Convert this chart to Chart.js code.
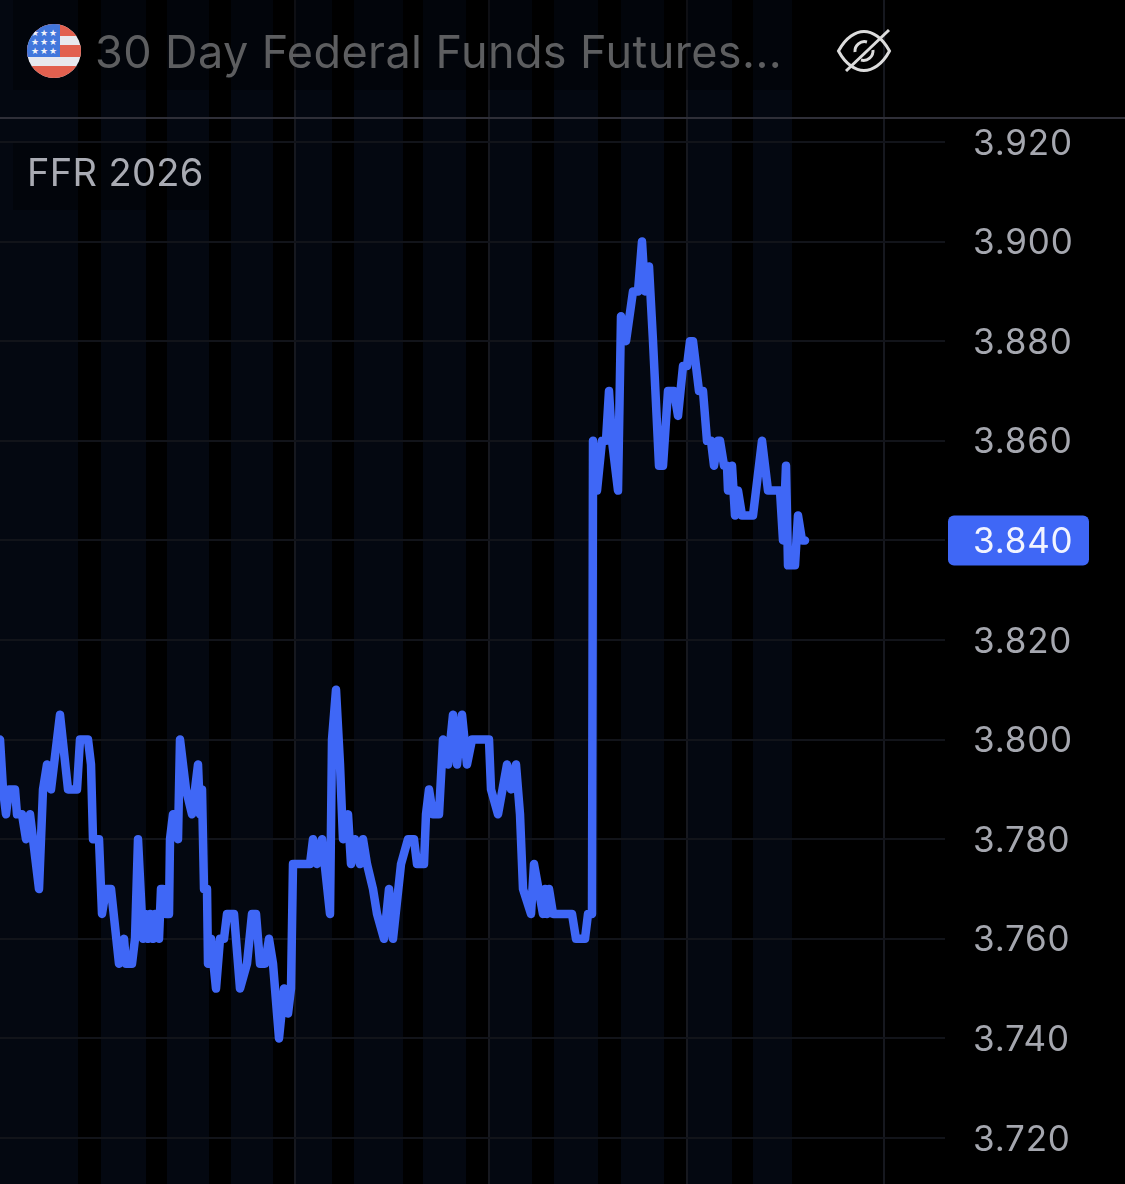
<!DOCTYPE html>
<html>
<head>
<meta charset="utf-8">
<style>
  html,body{margin:0;padding:0;background:#000;width:1125px;height:1184px;overflow:hidden}
  #wrap{position:relative;width:1125px;height:1184px}
  canvas{position:absolute;left:0;top:0}
  .t{position:absolute;font-family:Inter,"Noto Sans",sans-serif;white-space:nowrap;line-height:1}
  #title{left:95px;top:29px;font-size:45px;letter-spacing:0.4px;color:#5d5e60}
  #label{left:27px;top:153px;font-size:38px;letter-spacing:0.35px;color:#a9abb3}
  svg{position:absolute}
</style>
<script src="https://cdn.jsdelivr.net/npm/chart.js@4"></script>
</head>
<body>
<div id="wrap">
  <canvas id="c" width="1125" height="1184"></canvas>
  <svg style="left:27px;top:24px" width="54" height="54" viewBox="0 0 54 54">
    <defs><clipPath id="cp"><circle cx="27" cy="27" r="27"/></clipPath></defs>
    <g clip-path="url(#cp)">
      <rect width="54" height="54" fill="#e8e8ee"/>
      <rect y="0" width="54" height="12" fill="#e2604f"/>
      <rect y="21" width="54" height="12" fill="#e2604f"/>
      <rect y="42" width="54" height="12" fill="#e2604f"/>
      <rect width="33" height="33" fill="#4277dc"/>
      <g fill="#f2f4fa" font-size="9" font-family="DejaVu Sans" text-anchor="middle">
        <text x="8" y="12">★</text><text x="17" y="12">★</text><text x="26" y="12">★</text>
        <text x="8" y="21">★</text><text x="17" y="21">★</text><text x="26" y="21">★</text>
        <text x="8" y="30">★</text><text x="17" y="30">★</text><text x="26" y="30">★</text>
      </g>
    </g>
  </svg>
  <div class="t" id="title">30 Day Federal Funds Futures...</div>
  <div class="t" id="label">FFR 2026</div>
  <svg style="left:836px;top:28px" width="56" height="46" viewBox="0 0 56 46" fill="none" stroke="#dcdcdc" stroke-width="3">
    <path d="M2.5 23 C10 9 20 3.5 28 3.5 C36 3.5 46 9 53.5 23 C46 37 36 42.5 28 42.5 C20 42.5 10 37 2.5 23 Z"/>
    <path d="M19 24 A9.5 9.5 0 0 1 31 14 M37 22 A9.5 9.5 0 0 1 25 32"/>
    <path d="M10 43 L53 2"/>
  </svg>
</div>
<script>
const timeIdx = [0,3,6,9,15,17,22,26,30,39,43,47,51,60,68,77,80,88,91,93,99,102,106,111,119,124,126,132,135,138,143,145,148,150,153,155,159,161,163,166,169,170,173,178,180,186,192,198,200,202,204,207,208,211,216,220,224,227,234,240,247,252,256,260,265,269,273,279,284,288,291,293,310,313,317,322,330,332,336,340,343,348,351,355,360,363,367,373,377,384,389,393,401,408,414,417,424,426,429,433,439,443,448,453,457,462,467,472,489,491,498,507,511,516,520,523,531,534,543,545,547,549,553,572,576,585,588,592,593,597,602,606,609,612,618,621,626,633,638,642,645,649,653,659,663,668,674,678,683,687,690,693,699,703,707,711,714,718,720,724,727,728,732,735,738,742,753,762,768,780,783,786,788,792,795,798,802,805];
const priceValues = [3.800,3.790,3.785,3.790,3.790,3.785,3.785,3.780,3.785,3.770,3.790,3.795,3.790,3.805,3.790,3.790,3.800,3.800,3.795,3.780,3.780,3.765,3.770,3.770,3.755,3.760,3.755,3.755,3.760,3.780,3.760,3.765,3.760,3.765,3.760,3.765,3.760,3.770,3.770,3.765,3.765,3.780,3.785,3.780,3.800,3.790,3.785,3.795,3.785,3.790,3.770,3.770,3.755,3.760,3.750,3.760,3.760,3.765,3.765,3.750,3.755,3.765,3.765,3.755,3.755,3.760,3.755,3.740,3.750,3.745,3.750,3.775,3.775,3.780,3.775,3.780,3.765,3.800,3.810,3.795,3.780,3.785,3.775,3.780,3.775,3.780,3.775,3.770,3.765,3.760,3.770,3.760,3.775,3.780,3.780,3.775,3.775,3.785,3.790,3.785,3.785,3.800,3.795,3.805,3.795,3.805,3.795,3.800,3.800,3.790,3.785,3.795,3.790,3.795,3.785,3.770,3.765,3.775,3.765,3.770,3.765,3.770,3.765,3.765,3.760,3.760,3.765,3.765,3.860,3.850,3.860,3.860,3.870,3.860,3.850,3.885,3.880,3.890,3.890,3.900,3.890,3.895,3.880,3.855,3.855,3.870,3.870,3.865,3.875,3.875,3.880,3.880,3.870,3.870,3.860,3.860,3.855,3.860,3.860,3.855,3.855,3.850,3.855,3.845,3.850,3.845,3.845,3.860,3.850,3.850,3.840,3.855,3.835,3.835,3.835,3.845,3.840,3.840];
const priceTicks = [3.72,3.74,3.76,3.78,3.80,3.82,3.84,3.86,3.88,3.90,3.92];
const sessionStarts = [0,101,167,231,295,354,423,489,554,621,687,753];
const sessionEnds = [78,146,209,273,332,403,466,532,598,664,732,792];
const dayLines = [295,489,687,884];

const lineColor = '#3f67f6';
let labelsNudged = false;

const decor = {
  id:'decor',
  beforeDraw(chart){
    const {ctx,scales:{x,y},chartArea:a}=chart;
    ctx.letterSpacing='0.8px';
    if(!labelsNudged){
      y.getLabelItems(a).forEach(item=>{item.options.translation[1]+=2;});
      labelsNudged=true;
    }
    ctx.save();
    ctx.fillStyle='#000';
    ctx.fillRect(0,0,chart.width,chart.height);
    ctx.fillStyle='#040811';
    sessionStarts.forEach((s,i)=>{
      const l=x.getPixelForValue(s), r=x.getPixelForValue(sessionEnds[i]);
      ctx.fillRect(l,a.top,r-l,a.bottom-a.top);
    });
    ctx.restore();
  },
  beforeDatasetsDraw(chart){
    const {ctx}=chart;
    ctx.save();
    ctx.fillStyle='rgba(0,0,0,0.35)';
    ctx.fillRect(13,0,779,90);
    ctx.fillRect(13,143,212,67);
    ctx.fillStyle='#2f2f38';
    ctx.fillRect(0,117,chart.width,2);
    ctx.restore();
  },
  afterDraw(chart){
    const {ctx,scales:{y}}=chart;
    const last=priceValues[priceValues.length-1];
    const py=y.getPixelForValue(last);
    ctx.save();
    ctx.fillStyle=lineColor;
    ctx.beginPath();
    ctx.roundRect(948,py-25,141,50,6);
    ctx.fill();
    ctx.fillStyle='#f2f4ff';
    ctx.font='35px Inter, "Noto Sans", sans-serif';
    ctx.textBaseline='middle';
    ctx.textAlign='left';
    ctx.fillText(last.toFixed(3),973,py+2);
    ctx.restore();
  }
};

new Chart(document.getElementById('c'),{
  type:'line',
  data:{datasets:[{
    data:timeIdx.map((t,i)=>({x:t,y:priceValues[i]})),
    borderColor:lineColor,
    borderWidth:8.5,
    borderJoinStyle:'round',
    borderCapStyle:'round',
    pointRadius:0,
    tension:0,
    clip:false
  }]},
  options:{
    responsive:false,
    animation:false,
    devicePixelRatio:1,
    layout:{padding:0},
    plugins:{legend:{display:false},tooltip:{enabled:false},title:{display:false}},
    events:[],
    scales:{
      x:{
        type:'linear',min:0,max:945,
        afterBuildTicks(s){s.ticks=dayLines.map(v=>({value:v}));},
        afterFit(s){s.height=0;s.paddingLeft=0;s.paddingRight=0;s.paddingTop=0;s.paddingBottom=0;},
        ticks:{display:false},
        border:{display:false},
        grid:{color:'#16181f',lineWidth:2,drawTicks:false}
      },
      y:{
        position:'right',
        min:3.72-46/4980,
        max:3.92+142/4980,
        afterBuildTicks(s){s.ticks=priceTicks.map(v=>({value:v}));},
        afterFit(s){s.width=180;s.paddingTop=0;s.paddingBottom=0;s.paddingLeft=0;s.paddingRight=0;},
        border:{display:false},
        grid:{color:'#12141a',lineWidth:2,drawTicks:false},
        ticks:{
          padding:28,
          color:'#a5a7af',
          font:{family:'Inter, "Noto Sans", sans-serif',size:35},
          align:'center',
          crossAlign:'near',
          callback:v=>Number(v).toFixed(3)
        }
      }
    }
  },
  plugins:[decor]
});
</script>
</body>
</html>
